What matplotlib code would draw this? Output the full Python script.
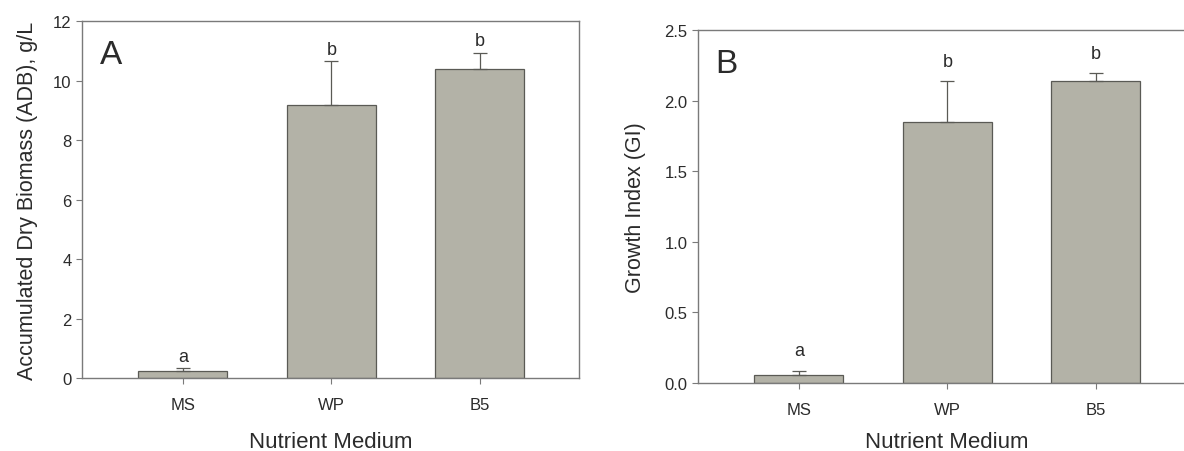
import numpy as np
import matplotlib
matplotlib.use("Agg")
import matplotlib.pyplot as plt

# ── Datos ─────────────────────────────────────────────
medios   = ["MS", "WP", "B5"]
adb      = [0.23, 9.19, 10.38]
adb_err  = [0.10, 1.45, 0.55]
adb_let  = ["a", "b", "b"]
gi       = [0.059, 1.85, 2.14]
gi_err   = [0.028, 0.29, 0.055]
gi_let   = ["a", "b", "b"]

C_BAR   = "#b3b2a7"
C_EDGE  = "#5a5a55"
C_SPINE = "#7a7a7a"
C_TXT   = "#2b2b2b"

plt.rcParams["font.family"] = ["Liberation Sans", "DejaVu Sans"]

fig = plt.figure(figsize=(11.84, 4.52), dpi=100, facecolor="white")


def panel(ax, vals, errs, letras, ymax, yticks, ylabel, tag, let_off, fmt,
          yl_pad, xl_pad):
    x = np.arange(len(medios))
    ax.bar(x, vals, width=0.6, color=C_BAR, edgecolor=C_EDGE,
           linewidth=0.9, zorder=2)
    ax.errorbar(x, vals, yerr=[np.zeros(len(vals)), errs], fmt="none",
                ecolor=C_EDGE, elinewidth=0.9, capsize=5, capthick=0.9,
                zorder=3)
    for xi, v, e, l in zip(x, vals, errs, letras):
        ax.text(xi, v + e + let_off, l, ha="center", va="bottom",
                fontsize=13, color=C_TXT)
    ax.set_xlim(-0.68, 2.67)
    ax.set_ylim(0, ymax)
    ax.set_yticks(yticks)
    ax.set_yticklabels([fmt.format(t) for t in yticks])
    ax.set_xticks(x)
    ax.set_xticklabels(medios)
    ax.tick_params(direction="out", length=4, width=0.8, colors=C_SPINE,
                   labelcolor=C_TXT, labelsize=12)
    ax.tick_params(axis="x", pad=10)
    for s in ax.spines.values():
        s.set_color(C_SPINE)
        s.set_linewidth(1.0)
    ax.set_ylabel(ylabel, fontsize=15.5, color=C_TXT, labelpad=yl_pad)
    ax.set_xlabel("Nutrient Medium", fontsize=16, color=C_TXT,
                  labelpad=xl_pad)
    ax.text(0.035, 0.95, tag, transform=ax.transAxes, ha="left", va="top",
            fontsize=24, color=C_TXT)


ax1 = fig.add_axes([0.0693, 0.1615, 0.4198, 0.7898])
panel(ax1, adb, adb_err, adb_let, 12, [0, 2, 4, 6, 8, 10, 12],
      "Accumulated Dry Biomass (ADB), g/L", "A", 0.12, "{:.0f}", 11, 13)

ax2 = fig.add_axes([0.5895, 0.1504, 0.42, 0.781])
panel(ax2, gi, gi_err, gi_let, 2.5, [0.0, 0.5, 1.0, 1.5, 2.0, 2.5],
      "Growth Index (GI)", "B", 0.08, "{:.1f}", 13, 10)

plt.savefig("out.png", dpi=100, facecolor="white")
